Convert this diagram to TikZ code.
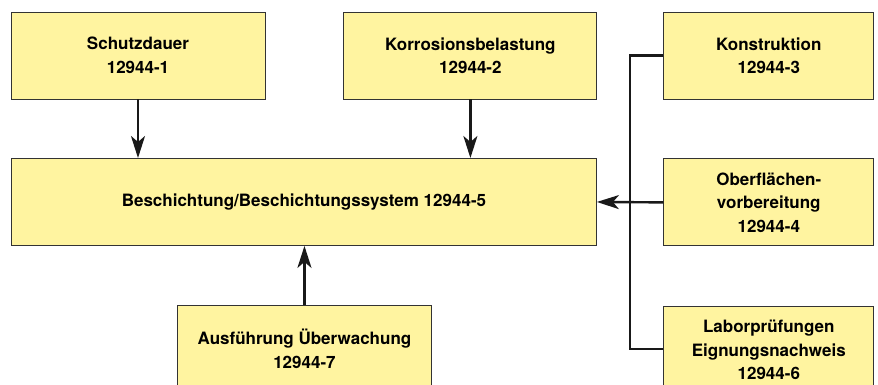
\documentclass[tikz,border=0pt]{standalone}
\usepackage{fontspec}
\setmainfont{TeX Gyre Heros}
\usetikzlibrary{positioning, arrows.meta, calc}

\definecolor{boxyellow}{HTML}{FFF4A0}

\begin{document}
\begin{tikzpicture}[
x=1pt, y=-1pt,
normbox/.style={rectangle,
  draw=black!80,
  line width=0.9pt,
  fill=boxyellow,
  minimum height=87pt,
  align=center,
  inner sep=0pt,
  font=\fontsize{17}{23.5}\selectfont\bfseries
},
link/.style={line width=2.4pt, black!90},
>={Stealth[length=22pt, width=14pt, inset=6pt]}
]

\clip (0,0) rectangle (878,385);

\node[normbox, minimum width=254pt] (schutz) at (138,55.5)
    {Schutzdauer\\12944-1};
\node[normbox, minimum width=253pt, right= 78pt of schutz] (korr)
    {Korrosionsbelastung\\12944-2};
\node[normbox, minimum width=210pt, right= 66pt of korr] (konstr)
    {Konstruktion\\12944-3};
\node[normbox, minimum width=585pt, anchor=north west] (haupt) at (11,158)
    {Beschichtung/Beschichtungssystem 12944-5};
\node[normbox, minimum width=210pt, below= 59pt of konstr] (ober)
    {Oberfl\"achen-\\vorbereitung\\12944-4};
\node[normbox, minimum width=210pt, below= 60pt of ober] (labor)
    {Laborpr\"ufungen\\Eignungsnachweis\\12944-6};
\node[normbox, minimum width=254pt, anchor=north west] (ausf) at (177,305)
    {Ausf\"uhrung \"Uberwachung\\12944-7};

\coordinate (bus) at ($(haupt.east)!0.5!(ober.west)$);

\draw[->,link] (schutz.south) -- (schutz.south |- haupt.north);
\draw[->,link] (korr.south) -- (korr.south |- haupt.north);
\draw[->,link] (ausf.north) -- (ausf.north |- haupt.south);
\draw[->,link] (ober.west) -- (haupt.east);
\draw[link] (konstr.west) -| (bus) |- ([yshift=1.5pt]labor.west);
\end{tikzpicture}
\end{document}
